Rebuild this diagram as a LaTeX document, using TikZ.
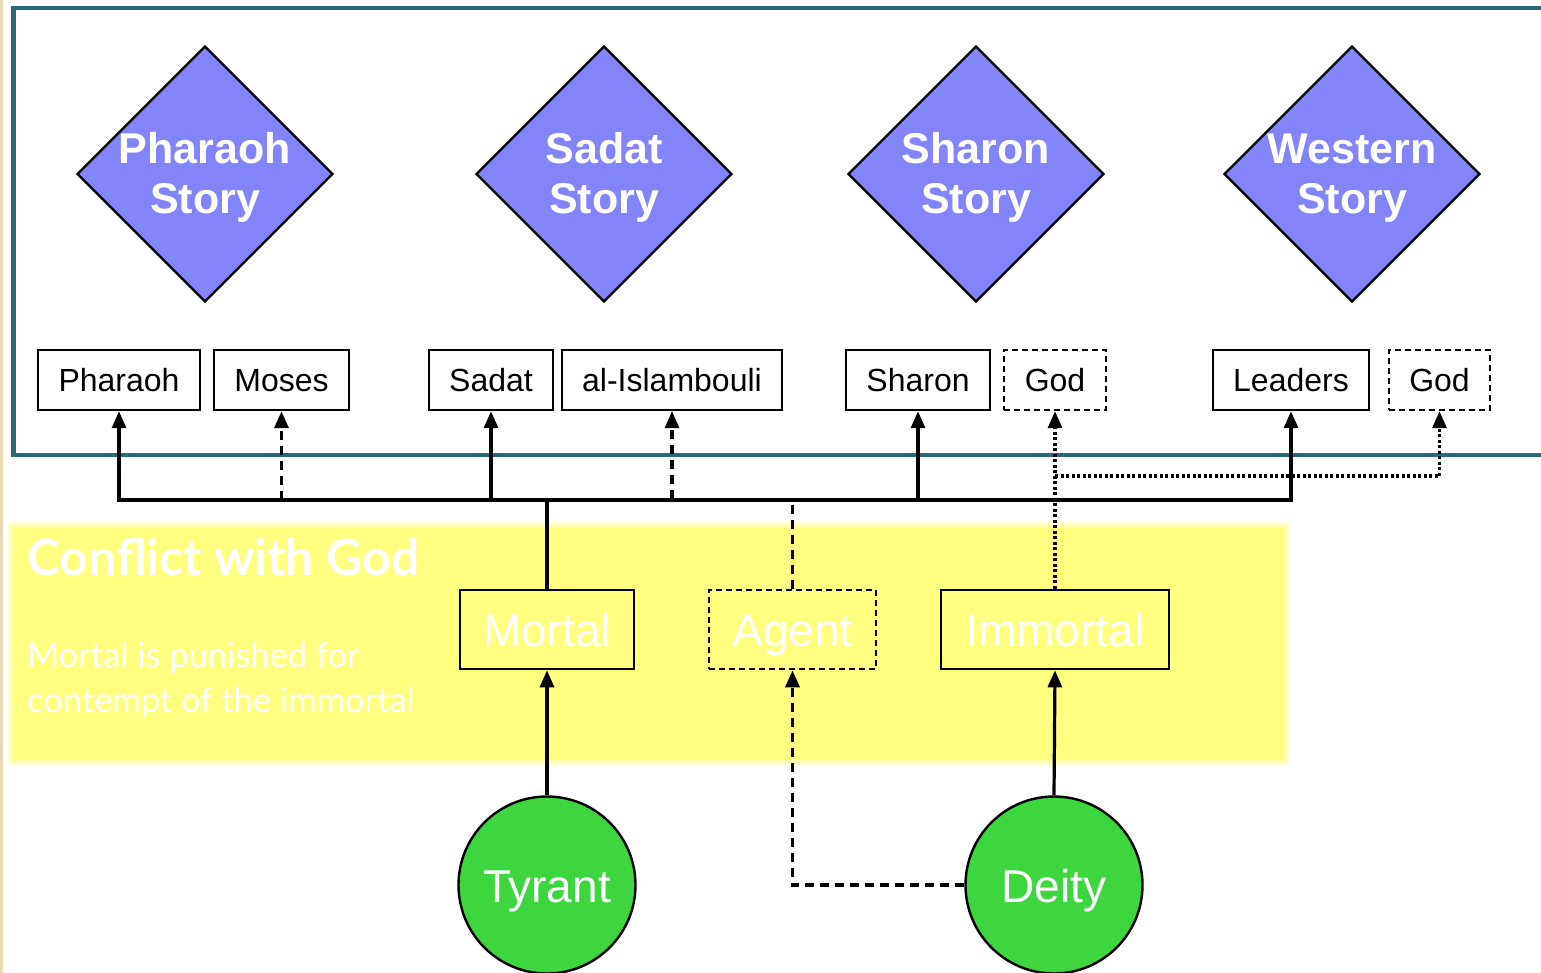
\documentclass[tikz,border=0pt]{standalone}
\usepackage{fontspec}
\setmainfont{Liberation Sans}
\newfontfamily\gillfont{Lato}
\usetikzlibrary{arrows.meta,shapes.geometric}
\definecolor{frameteal}{RGB}{42,106,120}
\definecolor{storyblue}{RGB}{132,132,250}
\definecolor{roundgreen}{RGB}{62,214,62}
\definecolor{hiyellow}{RGB}{255,255,128}
\definecolor{tanedge}{RGB}{232,218,176}
\begin{document}
\begin{tikzpicture}[x=1pt,y=-1pt,
  story/.style={diamond,draw=black,line width=2.4pt,fill=storyblue,minimum width=256pt,minimum height=256pt,inner sep=0pt},
  storytext/.style={text=white,font=\fontsize{43}{50}\selectfont\bfseries,align=center,inner sep=0pt,anchor=base},
  actor/.style={draw=black,line width=2.4pt,fill=white,minimum height=60pt,inner sep=0pt,text height=23pt,text depth=0pt,font=\fontsize{32}{38}\selectfont},
  dashbox/.style={dash pattern=on 6pt off 4pt},
  role/.style={draw=black,line width=2.6pt,minimum height=79pt,inner sep=0pt,text height=34pt,text depth=0pt,text=white,font=\fontsize{46}{52}\selectfont},
  roundnode/.style={circle,draw=black,line width=2.4pt,fill=roundgreen,minimum size=177pt,inner sep=0pt,text height=34pt,text depth=0pt,text=white,font=\fontsize{46}{52}\selectfont},
  conn/.style={line width=3.2pt,-{Triangle[length=17pt,width=14pt]}},
  dashconn/.style={dash pattern=on 9pt off 6pt},
  dotconn/.style={dash pattern=on 3pt off 2.5pt}
]
\useasboundingbox (0,0) rectangle (1541,973);
\fill[white] (0,0) rectangle (1541,973);
\fill[tanedge] (0,0) rectangle (3,973);
% frame
\draw[frameteal,line width=4.5pt] (1560,8) -- (13.5,8) -- (13.5,455) -- (1560,455);
% yellow panel
\foreach \e in {6,4,2} {
  \fill[hiyellow,opacity=0.3] (14-\e,528-\e) rectangle (1284+\e,760+\e);
}
\fill[hiyellow] (14,528) rectangle (1284,760);
\node[anchor=base west,inner sep=0pt,text=white,font=\gillfont\fontsize{50}{55}\selectfont\bfseries] (title) at (27,575) {Conflict with God};
\node[anchor=base west,inner sep=0pt,text=white,font=\gillfont\fontsize{34.5}{45}\selectfont] (subA) at (27,667) {Mortal is punished for};
\node[anchor=base west,inner sep=0pt,text=white,font=\gillfont\fontsize{34.5}{45}\selectfont] (subB) at (27,712) {contempt of the immortal};
% stories
\node[story] (d1) at (205,174) {};
\node[story] (d2) at (604,174) {};
\node[story] (d3) at (976,174) {};
\node[story] (d4) at (1352,174) {};
\node[storytext] at (205,214) {Pharaoh\\Story};
\node[storytext] at (604,214) {Sadat\\Story};
\node[storytext] at (976,214) {Sharon\\Story};
\node[storytext] at (1352,214) {Western\\Story};
% actors
\node[actor,minimum width=162pt] (pharaoh) at (119,380) {Pharaoh};
\node[actor,minimum width=135pt] (moses) at (281.5,380) {Moses};
\node[actor,minimum width=124pt] (sadat) at (491,380) {Sadat};
\node[actor,minimum width=220pt] (islam) at (672,380) {al-Islambouli};
\node[actor,minimum width=144pt] (sharon) at (918,380) {Sharon};
\node[actor,dashbox,minimum width=102pt] (godA) at (1055,380) {God};
\node[actor,minimum width=156pt] (leaders) at (1291,380) {Leaders};
\node[actor,dashbox,minimum width=101pt] (godB) at (1439.5,380) {God};
% roles
\node[role,minimum width=174pt] (mortal) at (547,629.5) {Mortal};
\node[role,dashbox,minimum width=167pt] (agent) at (792.5,629.5) {Agent};
\node[role,minimum width=228pt] (immortal) at (1055,629.5) {Immortal};
% round nodes
\node[roundnode] (tyrant) at (547,885) {Tyrant};
\node[roundnode] (deity) at (1054,885) {Deity};
% buses
\coordinate (bus) at (0,500);
\coordinate (dotbus) at (0,476);
% dashed from agent
\draw[conn,dashconn] (agent.north) -- (agent.north |- bus) -| (moses.south);
\draw[conn,dashconn] (agent.north) -- (agent.north |- bus) -| (islam.south);
% solid from mortal
\draw[conn] (mortal.north) -- (mortal.north |- bus) -| (pharaoh.south);
\draw[conn] (mortal.north) -- (mortal.north |- bus) -| (sadat.south);
\draw[conn] (mortal.north) -- (mortal.north |- bus) -| (sharon.south);
\draw[conn] (mortal.north) -- (mortal.north |- bus) -| (leaders.south);
% dotted from immortal
\draw[conn,dotconn] (immortal.north) -- (godA.south);
\draw[conn,dotconn] (immortal.north |- dotbus) -| (godB.south);
% bottom
\draw[conn] (tyrant.north) -- (mortal.south);
\draw[conn] (deity.north) -- (immortal.south);
\draw[conn,dashconn] (deity.west) -| (agent.south);
\end{tikzpicture}
\end{document}
